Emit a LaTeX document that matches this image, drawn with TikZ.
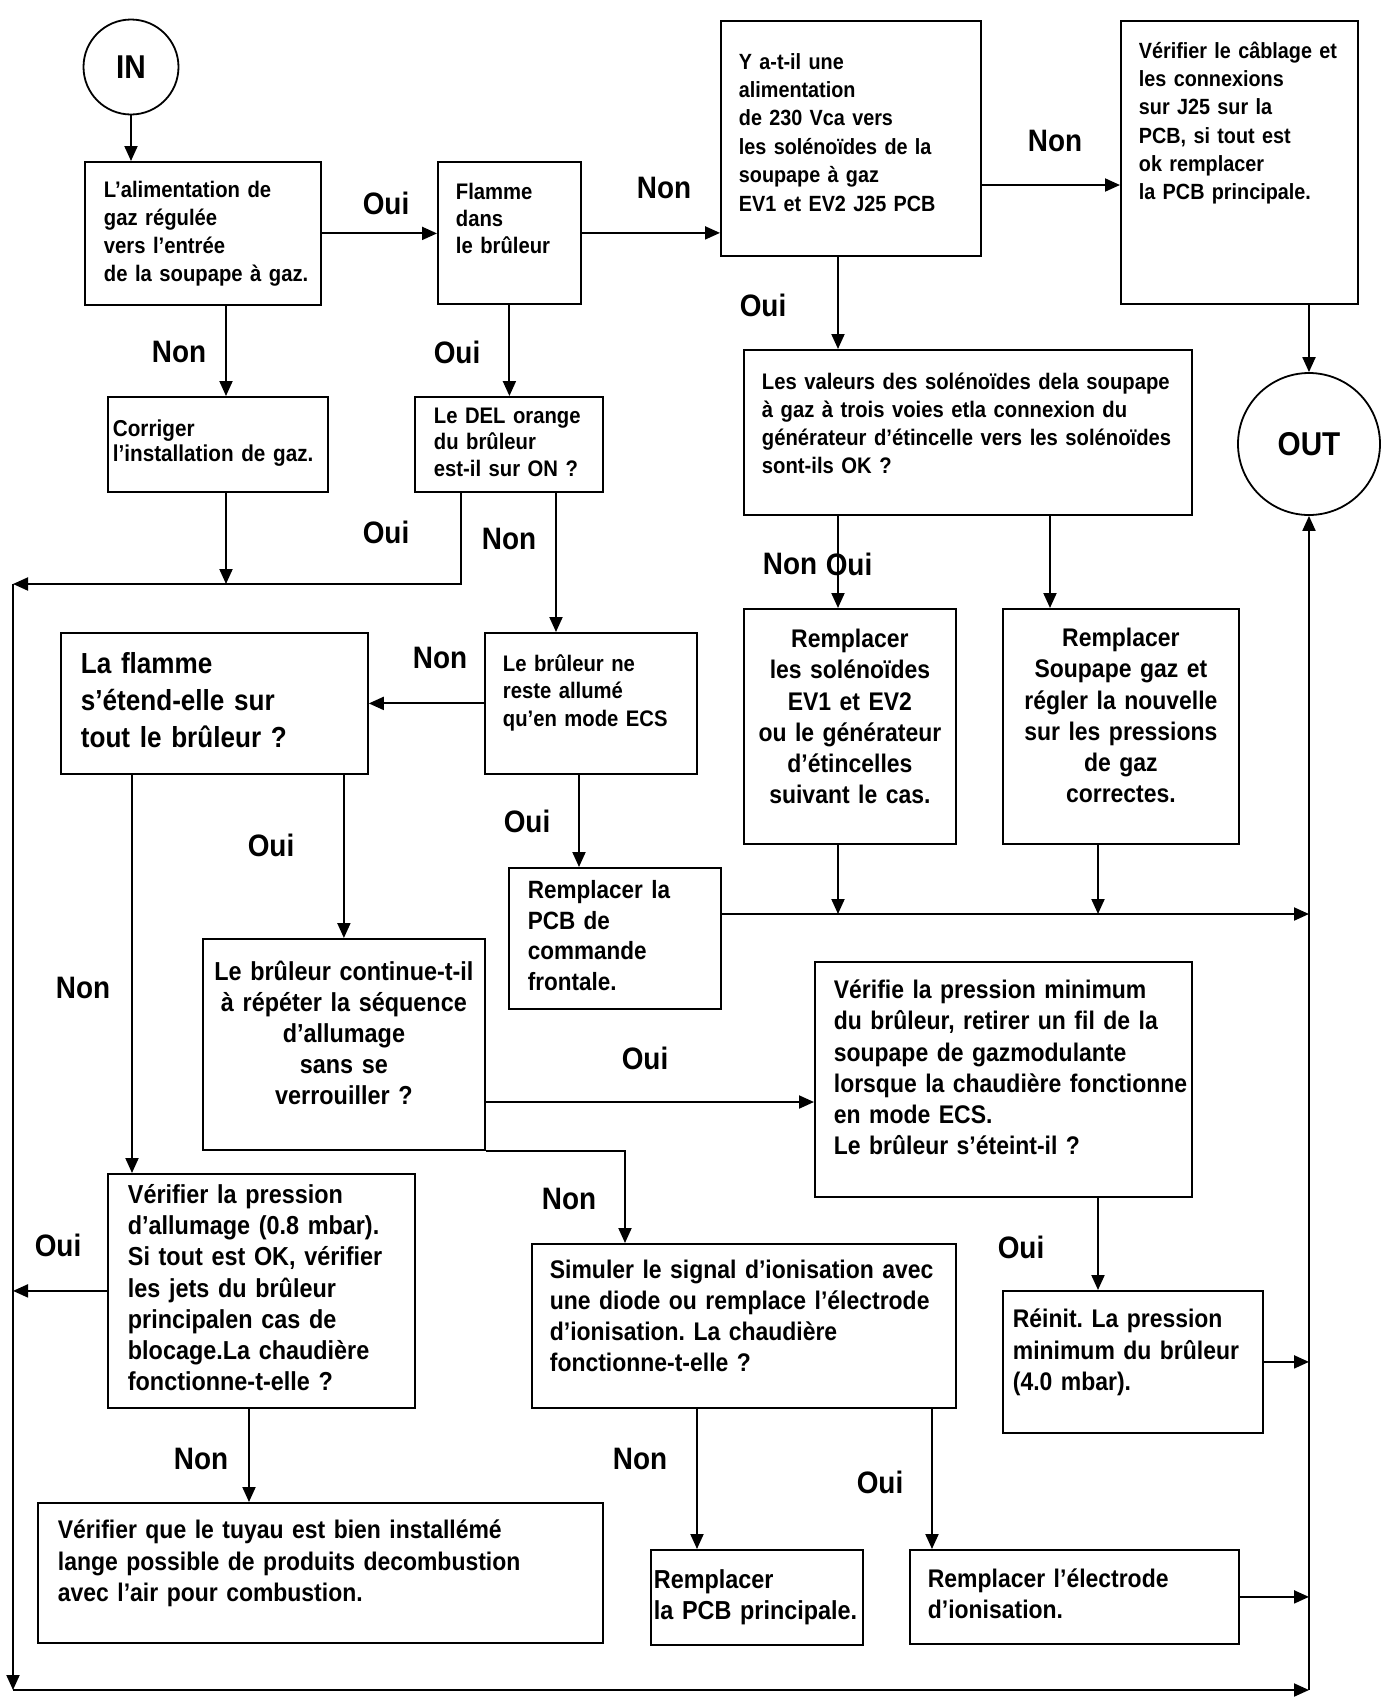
\documentclass[tikz,border=0pt]{standalone}
\usepackage{fontspec}
\setmainfont{Liberation Sans}[FakeStretch=0.9]
\usetikzlibrary{arrows.meta}
\frenchspacing
\newcommand\lignes[2][l]{\begin{tabular}{@{}#1@{}}#2\end{tabular}}

\begin{document}
\begin{tikzpicture}[x=0.5pt,y=-0.5pt,line width=1pt,
		fleche/.style={-{Triangle[length=7.5pt,width=6.5pt]}},
		cadre/.style={draw,line width=0.9pt,anchor=north west,inner ysep=0pt},
		rond/.style={draw,circle,line width=0.9pt,inner sep=0pt,font=\fontsize{16.5}{18}\selectfont\bfseries},
		etiq/.style={inner sep=0pt,font=\fontsize{15.5}{18}\selectfont\bfseries},
		petit/.style={font=\fontsize{11.25}{14}\selectfont\bfseries},
		moyen/.style={font=\fontsize{12.75}{15.6}\selectfont\bfseries},
		grand/.style={font=\fontsize{14.5}{18.5}\selectfont\bfseries}]
			\fill[white] (0,0) rectangle (1384,1699);
			\useasboundingbox (0,0) rectangle (1384,1699);
			
			\node[rond,minimum size=47.5pt] (entree) at (131,67) {IN};
			\node[rond,minimum size=71pt] (sortie) at (1309,444) {OUT};
			
			\node[cadre,petit,text width=99pt,inner xsep=9.5pt,minimum height=71.5pt] (alim) at (84,161) {\lignes{L'alimentation de\\gaz régulée\\vers l'entrée\\de la soupape à gaz.}};
			\node[cadre,font=\fontsize{11.25}{13.5}\selectfont\bfseries,text width=53.5pt,inner xsep=9pt,minimum height=71pt] (flamme) at (437,161) {\lignes{Flamme\\dans\\le brûleur\\[12pt]}};
			\node[cadre,font=\fontsize{11}{14.2}\selectfont\bfseries,text width=112pt,inner xsep=9pt,minimum height=117.5pt] (yatil) at (720,20) {\lignes{Y a-t-il une\\alimentation\\de 230 Vca vers\\les solénoïdes de la\\soupape à gaz\\EV1 et EV2 J25 PCB\\[4pt]}};
			\node[cadre,font=\fontsize{11}{14.1}\selectfont\bfseries,text width=100.5pt,inner xsep=9pt,minimum height=141.5pt] (cablage) at (1120,20) {\lignes{Vérifier le câblage et\\les connexions\\sur J25 sur la\\PCB, si tout est\\ok remplacer\\la PCB principale.\\[39pt]}};
			\node[cadre,font=\fontsize{11.5}{12.5}\selectfont\bfseries,text width=105pt,inner xsep=2.5pt,minimum height=47.5pt] (corriger) at (107,396) {\lignes{Corriger\\l'installation de gaz.}};
			\node[cadre,font=\fontsize{11.25}{13.3}\selectfont\bfseries,text width=75pt,inner xsep=9.5pt,minimum height=47.5pt] (del) at (414,396) {\lignes{Le DEL orange\\du brûleur\\est-il sur ON ?}};
			\node[cadre,petit,text width=206pt,inner xsep=9pt,minimum height=82.5pt] (valeurs) at (743,349) {\lignes{Les valeurs des solénoïdes dela soupape\\à gaz à trois voies etla connexion du\\générateur d'étincelle vers les solénoïdes\\sont-ils OK ?\\[7pt]}};
			\node[cadre,grand,text width=133.5pt,inner xsep=10pt,minimum height=70.5pt] (etend) at (60,632) {\lignes{La flamme\\s'étend-elle sur\\tout le brûleur ?}};
			\node[cadre,font=\fontsize{11.25}{13.8}\selectfont\bfseries,text width=88pt,inner xsep=9pt,minimum height=70.5pt] (ecs) at (484,632) {\lignes{Le brûleur ne\\reste allumé\\qu'en mode ECS\\[10pt]}};
			\node[cadre,font=\fontsize{12.5}{15.3}\selectfont\bfseries,text width=87pt,inner xsep=9.5pt,minimum height=70.5pt] (pcbfront) at (508,867) {\lignes{Remplacer la\\PCB de\\commande\\frontale.}};
			\node[cadre,align=center,font=\fontsize{13}{15.5}\selectfont\bfseries,text width=131pt,inner xsep=5pt,minimum height=105.5pt] (sequence) at (202,938) {\lignes[c]{Le brûleur continue-t-il\\à répéter la séquence\\d'allumage\\sans se\\verrouiller ?\\[8pt]}};
			\node[cadre,moyen,text width=169.5pt,inner xsep=9.5pt,minimum height=117.5pt] (pressmin) at (814,961) {\lignes{Vérifie la pression minimum\\du brûleur, retirer un fil de la\\soupape de gazmodulante\\lorsque la chaudière fonctionne\\en mode ECS.\\Le brûleur s'éteint-il ?\\[9pt]}};
			\node[cadre,align=center,moyen,text width=96pt,inner xsep=5pt,minimum height=117.5pt] (solenoides) at (743,608) {\lignes[c]{Remplacer\\les solénoïdes\\EV1 et EV2\\ou le générateur\\d'étincelles\\suivant le cas.\\[7pt]}};
			\node[cadre,align=center,moyen,text width=108pt,inner xsep=5pt,minimum height=117.5pt] (soupape) at (1002,608) {\lignes[c]{Remplacer\\Soupape gaz et\\régler la nouvelle\\sur les pressions\\de gaz\\correctes.\\[8pt]}};
			\node[cadre,moyen,text width=194pt,inner xsep=9pt,minimum height=82pt] (simuler) at (531,1243) {\lignes{Simuler le signal d'ionisation avec\\une diode ou remplace l'électrode\\d'ionisation. La chaudière\\fonctionne-t-elle ?\\[7pt]}};
			\node[cadre,font=\fontsize{13}{15.6}\selectfont\bfseries,text width=133.5pt,inner xsep=10pt,minimum height=117pt] (allumage) at (107,1173) {\lignes{Vérifier la pression\\d'allumage (0.8 mbar).\\Si tout est OK, vérifier\\les jets du brûleur\\principalen cas de\\blocage.La chaudière\\fonctionne-t-elle ?}};
			\node[cadre,moyen,text width=262.5pt,inner xsep=10pt,minimum height=70pt] (tuyau) at (37,1502) {\lignes{Vérifier que le tuyau est bien installémé\\lange possible de produits decombustion\\avec l'air pour combustion.\\[9pt]}};
			\node[cadre,font=\fontsize{13}{15.5}\selectfont\bfseries,text width=103pt,inner xsep=1.5pt,minimum height=47.5pt] (pcbprinc) at (650,1549) {\lignes{Remplacer\\la PCB principale.}};
			\node[cadre,moyen,text width=120pt,inner xsep=5pt,minimum height=71pt] (reinit) at (1002,1290) {\lignes{Réinit. La pression\\minimum du brûleur\\(4.0 mbar).\\[9pt]}};
			\node[cadre,moyen,text width=146.5pt,inner xsep=9pt,minimum height=47pt] (electrode) at (909,1549) {\lignes{Remplacer l'électrode\\d'ionisation.}};
			
			\coordinate (colA) at (838,0);
			\coordinate (colB) at (1050,0);
			\coordinate (colC) at (1098,0);
			\coordinate (colG) at (226,0);
			\coordinate (colH) at (461,0);
			\coordinate (colI) at (556,0);
			\coordinate (colJ) at (579,0);
			\coordinate (colK) at (132,0);
			\coordinate (colL) at (249,0);
			\coordinate (colM) at (625,0);
			\coordinate (colN) at (697,0);
			\coordinate (colP) at (932,0);
			\coordinate (rowA) at (0,914);
			\coordinate (rowB) at (0,1102);
			\coordinate (rowC) at (0,185);
			\coordinate (retour) at (13,584);
			\coordinate (bas) at (13,1690);
			\coordinate (basd) at (1309,1690);
			
			\draw[fleche] (entree) -- (entree |- alim.north);
			\draw[fleche] (alim.east) -- (alim.east -| flamme.west);
			\draw[fleche] (flamme.east) -- (flamme.east -| yatil.west);
			\draw[fleche] (yatil.east |- rowC) -- (cablage.west |- rowC);
			\draw[fleche] (sortie.north |- cablage.south) -- (sortie.north);
			\draw[fleche] (yatil.south -| colA) -- (valeurs.north -| colA);
			\draw[fleche] (valeurs.south -| colA) -- (solenoides.north -| colA);
			\draw[fleche] (valeurs.south -| colB) -- (soupape.north -| colB);
			\draw[fleche] (solenoides.south -| colA) -- (colA |- rowA);
			\draw[fleche] (soupape.south -| colC) -- (colC |- rowA);
			\draw[fleche] (pcbfront.east |- rowA) -- (sortie.south |- rowA);
			\draw[fleche] (alim.south -| colG) -- (corriger.north -| colG);
			\draw[fleche] (flamme.south) -- (flamme.south |- del.north);
			\draw[fleche] (corriger.south -| colG) -- (colG |- retour);
			\draw[fleche] (del.south -| colH) -- (colH |- retour) -- (retour);
			\draw[fleche] (retour) -- (bas);
			\draw[fleche] (bas) -- (basd);
			\draw[fleche] (basd) -- (sortie.south);
			\draw[fleche] (del.south -| colI) -- (ecs.north -| colI);
			\draw[fleche] (ecs.west) -- (ecs.west -| etend.east);
			\draw[fleche] (ecs.south -| colJ) -- (pcbfront.north -| colJ);
			\draw[fleche] (etend.south -| sequence.north) -- (sequence.north);
			\draw[fleche] (etend.south -| colK) -- (allumage.north -| colK);
			\draw[fleche] (sequence.east |- rowB) -- (pressmin.west |- rowB);
			\draw[fleche] (sequence.south east) -- (sequence.south east -| colM) -- (simuler.north -| colM);
			\draw[fleche] (pressmin.south -| colC) -- (reinit.north -| colC);
			\draw[fleche] (reinit.east) -- (reinit.east -| sortie.south);
			\draw[fleche] (allumage.west) -- (allumage.west -| retour);
			\draw[fleche] (allumage.south -| colL) -- (tuyau.north -| colL);
			\draw[fleche] (simuler.south -| colN) -- (pcbprinc.north -| colN);
			\draw[fleche] (simuler.south -| colP) -- (electrode.north -| colP);
			\draw[fleche] (electrode.east) -- (electrode.east -| sortie.south);
			
			\node[etiq] (oui1) at (386,203) {Oui};
			\node[etiq] (non1) at (664,188) {Non};
			\node[etiq] (non2) at (1055,141) {Non};
			\node[etiq] (oui2) at (763,305) {Oui};
			\node[etiq] (non3) at (179,352) {Non};
			\node[etiq] (oui3) at (457,352) {Oui};
			\node[etiq] (oui4) at (386,532) {Oui};
			\node[etiq] (non4) at (509,539) {Non};
			\node[etiq] (non5) at (790,564) {Non};
			\node[etiq] (oui5) at (849,564) {Oui};
			\node[etiq] (non6) at (440,658) {Non};
			\node[etiq] (oui6) at (527,821) {Oui};
			\node[etiq] (oui7) at (271,845) {Oui};
			\node[etiq] (non7) at (83,988) {Non};
			\node[etiq] (oui8) at (645,1058) {Oui};
			\node[etiq] (non8) at (569,1199) {Non};
			\node[etiq] (oui9) at (58,1245) {Oui};
			\node[etiq] (oui10) at (1021,1247) {Oui};
			\node[etiq] (non9) at (201,1459) {Non};
			\node[etiq] (non10) at (640,1459) {Non};
			\node[etiq] (oui11) at (880,1482) {Oui};
		\end{tikzpicture}
\end{document}
